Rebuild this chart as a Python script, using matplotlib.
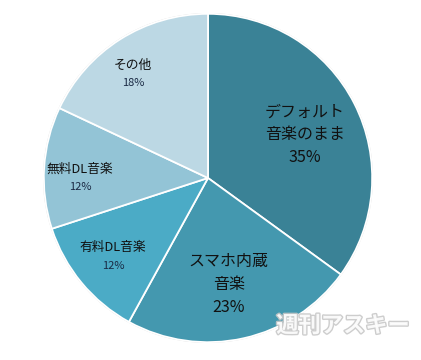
import numpy as np
import matplotlib
matplotlib.use("Agg")
import matplotlib.pyplot as plt
import matplotlib.patheffects as pe

plt.rcParams['font.family'] = ['Noto Sans CJK JP', 'DejaVu Sans']

# data
labels = ['デフォルト\n音楽のまま', 'スマホ内蔵\n音楽', '有料DL音楽', '無料DL音楽', 'その他']
shares = [35, 23, 12, 12, 18]
colors = ['#3a8296', '#4498af', '#4babc6', '#93c4d6', '#bcd8e4']

# label layout per slice
label_r = [0.645, 0.66, 0.75, 0.78, 0.78]
label_shift = [-3.0, -1.5, 0.0, 3.6, 3.5]
label_size = [11.5, 11.5, 9.2, 9.2, 9.2]
pct_size = [11.5, 11.5, 8, 8, 8]
line_gap = [0.14, 0.14, 0.11, 0.11, 0.11]

fig = plt.figure(figsize=(4.21, 3.6), dpi=100)
ax = fig.add_axes([43 / 421, 17 / 360, 330 / 421, 330 / 360])

wedges, _ = ax.pie(shares, colors=colors, startangle=90, counterclock=False,
                   radius=1.0,
                   wedgeprops=dict(edgecolor='white', linewidth=1.3))
ax.set_xlim(-1.005, 1.005)
ax.set_ylim(-1.005, 1.005)
ax.set_aspect('equal')
ax.axis('off')
# faint rim
rim = plt.Circle((0, 0), 1.0, fill=False, edgecolor='#d8d8d8', linewidth=1.2, zorder=0.5)
ax.add_patch(rim)

for i, w in enumerate(wedges):
    mid = np.deg2rad((w.theta1 + w.theta2) / 2 + label_shift[i])
    x = label_r[i] * np.cos(mid)
    y = label_r[i] * np.sin(mid)
    name_lines = labels[i].split('\n')
    n = len(name_lines) + 1
    gap = line_gap[i]
    top = y + gap * (n - 1) / 2
    for k, line in enumerate(name_lines):
        ax.text(x, top - k * gap, line, ha='center', va='center',
                fontsize=label_size[i], color='#111111')
    ax.text(x, top - (n - 1) * gap, '%d%%' % shares[i], ha='center', va='center',
            fontsize=pct_size[i], color='#1a2a44' if i >= 2 else '#111111')

# watermark
fig.text(0.815, 0.095, '週刊アスキー', ha='center', va='center', fontsize=16,
         fontweight='bold', color='white', alpha=0.9,
         path_effects=[pe.withStroke(linewidth=2, foreground='#c8c8c8')])

fig.savefig('out.png', dpi=100)
